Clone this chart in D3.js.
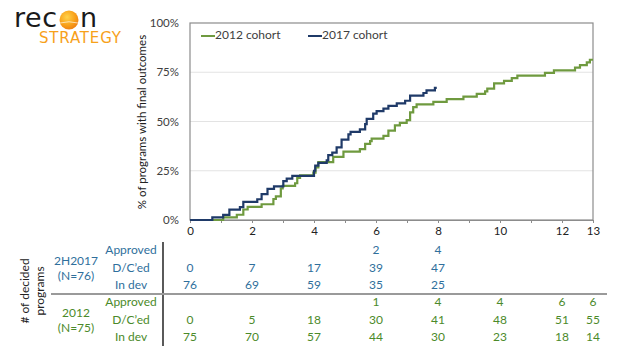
<!DOCTYPE html>
<html>
<head>
<meta charset="utf-8">
<script src="https://cdn.jsdelivr.net/npm/d3@7"></script>
<style>
  html, body { margin: 0; padding: 0; background: #fff; }
  svg { display: block; }
  text { font-family: Lato, "Open Sans", sans-serif; }
</style>
</head>
<body>
<svg id="chart" width="624" height="356"></svg>
<script>
// ---------- data ----------
const seriesNames = ["2012 cohort", "2017 cohort"];
const cohort2012Total = 75;
const cohort2017Total = 76;
// [month, cumulative # of decided programs] : the count steps up at that month
const steps2012 = [[1.07,1],[1.51,2],[1.72,4],[1.86,5],[2.31,6],[2.69,8],[2.77,9],[2.93,12],[2.99,13],
  [3.39,14],[3.46,16],[3.55,17],[3.98,18],[4.05,20],[4.14,22],[4.62,24],[4.95,26],[5.48,27],[5.65,29],
  [5.81,30],[5.86,31],[6.24,32],[6.40,34],[6.61,36],[6.77,37],[6.99,38],[7.10,41],[7.20,43],[7.31,44],
  [7.85,45],[8.28,46],[8.82,47],[9.25,48],[9.52,49],[9.59,50],[9.81,52],[10.13,53],[10.38,54],[10.56,55],
  [11.45,56],[11.74,57],[12.42,58],[12.58,59],[12.80,60],[12.90,61]];
const end2012 = 13.0;
const steps2017 = [[0.72,1],[1.07,2],[1.27,4],[1.61,5],[1.72,7],[2.17,8],[2.31,10],[2.5,12],[2.71,13],
  [3.01,15],[3.12,16],[3.3,17],[4.0,19],[4.04,21],[4.14,22],[4.41,23],[4.46,25],[4.59,26],[4.73,28],
  [4.89,31],[5.11,33],[5.18,34],[5.48,35],[5.65,37],[5.70,39],[5.91,41],[6.02,42],[6.24,43],[6.40,44],
  [6.67,45],[6.94,46],[7.10,48],[7.53,49],[7.63,50],[7.90,51]];
const end2017 = 7.96;

const xTicks = [0, 2, 4, 6, 8, 10, 12, 13];
const yTicks = [0, 0.25, 0.5, 0.75, 1];

const tableCols = [0, 2, 4, 6, 8, 10, 12, 13];
const rowLabels = ["Approved", "D/C\u2019ed", "In dev"];
const approved2017 = [null, null, null, 2, 4];
const dced2017 = [0, 7, 17, 39, 47];
const indev2017 = [76, 69, 59, 35, 25];
const approved2012 = [null, null, null, 1, 4, 4, 6, 6];
const dced2012 = [0, 5, 18, 30, 41, 48, 51, 55];
const indev2012 = [75, 70, 57, 44, 30, 23, 18, 14];

// ---------- styles ----------
const green = "#6f9a3f", blue = "#1f3a68";
const greenText = "#4b8a2a", blueText = "#2f6f9c";

const svg = d3.select("#chart");
const x = d3.scaleLinear().domain([0, 13]).range([190, 593]);
const y = d3.scaleLinear().domain([0, 1]).range([220, 23]);

// gridlines
svg.append("g").selectAll("line").data(yTicks.filter(d => d > 0 && d < 1)).join("line")
  .attr("x1", x(0)).attr("x2", x(13)).attr("y1", d => y(d)).attr("y2", d => y(d))
  .attr("stroke", "#e3e3e3").attr("stroke-width", 1);

// frame
svg.append("rect").attr("x", x(0)).attr("y", y(1)).attr("width", x(13) - x(0)).attr("height", y(0) - y(1))
  .attr("fill", "none").attr("stroke", "#8c8c8c").attr("stroke-width", 1.2);

// y axis
const yAxis = svg.append("g").attr("transform", `translate(${x(0)},0)`)
  .call(d3.axisLeft(y).tickValues(yTicks).tickFormat(d3.format(".0%")).tickSize(0).tickPadding(11));
yAxis.select(".domain").remove();
yAxis.selectAll("text").attr("font-size", 11.5).attr("fill", "#404040").style("font-family", "Lato, sans-serif");

// x axis
const xAxis = svg.append("g").attr("transform", `translate(0,${y(0)})`)
  .call(d3.axisBottom(x).tickValues(d3.range(0, 14)).tickFormat(d => xTicks.includes(d) ? d : "").tickSize(3).tickPadding(4));
xAxis.select(".domain").attr("stroke", "#8c8c8c");
xAxis.selectAll(".tick line").attr("stroke", "#8c8c8c");
xAxis.selectAll("text").attr("font-size", 11.5).attr("fill", "#222").style("font-family", "Lato, sans-serif");

// y title
svg.append("text").attr("transform", `translate(143,122) rotate(-90)`)
  .attr("text-anchor", "middle").attr("dominant-baseline", "middle")
  .attr("font-size", 11.5).attr("fill", "#222").text("% of programs with final outcomes");

// lines
function buildPts(steps, total, end) {
  const pts = [[0, 0]].concat(steps.map(s => [s[0], s[1] / total]));
  pts.push([end, steps[steps.length - 1][1] / total]);
  return pts;
}
const line = d3.line().x(d => x(d[0])).y(d => y(d[1])).curve(d3.curveStepAfter);
svg.append("path").datum(buildPts(steps2012, cohort2012Total, end2012))
  .attr("d", line).attr("fill", "none").attr("stroke", green).attr("stroke-width", 2.2);
svg.append("path").datum(buildPts(steps2017, cohort2017Total, end2017))
  .attr("d", line).attr("fill", "none").attr("stroke", blue).attr("stroke-width", 2.2);

// legend
const leg = [{ name: seriesNames[0], color: green, x0: 201 }, { name: seriesNames[1], color: blue, x0: 308 }];
leg.forEach(l => {
  svg.append("line").attr("x1", l.x0).attr("x2", l.x0 + 14).attr("y1", 36).attr("y2", 36)
    .attr("stroke", l.color).attr("stroke-width", 2);
  svg.append("text").attr("x", l.x0 + 14).attr("y", 36).attr("dominant-baseline", "middle")
    .attr("font-size", 12).attr("fill", "#404040").text(l.name);
});

// ---------- table ----------
svg.append("line").attr("x1", 163).attr("x2", 163).attr("y1", 242).attr("y2", 346)
  .attr("stroke", "#000").attr("stroke-width", 1.3);
svg.append("line").attr("x1", 51).attr("x2", 607).attr("y1", 294).attr("y2", 294)
  .attr("stroke", "#9a9a9a").attr("stroke-width", 2);

const groups = [
  { rows: [approved2017, dced2017, indev2017], color: blueText, ys: [251, 268.5, 286], name: ["2H2017", "(N=76)"], ny: [262, 276.5] },
  { rows: [approved2012, dced2012, indev2012], color: greenText, ys: [303, 320.5, 338], name: ["2012", "(N=75)"], ny: [314, 328.5] }
];
groups.forEach(g => {
  g.name.forEach((t, i) => svg.append("text").attr("x", 76).attr("y", g.ny[i])
    .attr("text-anchor", "middle").attr("dominant-baseline", "middle")
    .attr("font-size", 12).attr("fill", g.color).text(t));
  rowLabels.forEach((t, i) => svg.append("text").attr("x", 131).attr("y", g.ys[i])
    .attr("text-anchor", "middle").attr("dominant-baseline", "middle")
    .attr("font-size", 12).attr("fill", g.color).text(t));
  g.rows.forEach((row, ri) => {
    row.forEach((v, ci) => {
      if (v === null) return;
      svg.append("text").attr("x", x(tableCols[ci])).attr("y", g.ys[ri])
        .attr("text-anchor", "middle").attr("dominant-baseline", "middle")
        .attr("font-size", 12).attr("fill", g.color).text(v);
    });
  });
});

// side label
const side = svg.append("text").attr("transform", "translate(33,291) rotate(-90)")
  .attr("text-anchor", "middle").attr("font-size", 12).attr("fill", "#222");
side.append("tspan").attr("x", 0).attr("dy", "-0.3em").text("# of decided");
side.append("tspan").attr("x", 0).attr("dy", "1.25em").text("programs");

// ---------- logo ----------
const defs = svg.append("defs");
const rg = defs.append("radialGradient").attr("id", "sun").attr("cx", "40%").attr("cy", "35%").attr("r", "70%");
rg.append("stop").attr("offset", "0%").attr("stop-color", "#ffd24a");
rg.append("stop").attr("offset", "60%").attr("stop-color", "#f9a21b");
rg.append("stop").attr("offset", "100%").attr("stop-color", "#ee7d10");
svg.append("text").attr("x", 14).attr("y", 27).attr("font-size", 27).attr("fill", "#1a1a1a")
  .style("font-family", "'DejaVu Sans', sans-serif").attr("textLength", 43).text("rec");
svg.append("circle").attr("cx", 69).attr("cy", 20).attr("r", 9.5).attr("fill", "url(#sun)");
svg.append("path").attr("d", "M60,23 Q69,20.5 78,23").attr("fill", "none").attr("stroke", "#fff").attr("stroke-width", 0.8).attr("opacity", 0.8);
svg.append("text").attr("x", 80).attr("y", 27).attr("font-size", 27).attr("fill", "#1a1a1a")
  .style("font-family", "'DejaVu Sans', sans-serif").text("n");
svg.append("text").attr("x", 39).attr("y", 43).attr("font-size", 15).attr("fill", "#f7a11a")
  .style("font-family", "'DejaVu Sans', sans-serif").attr("textLength", 82).text("STRATEGY");
</script>
</body>
</html>
